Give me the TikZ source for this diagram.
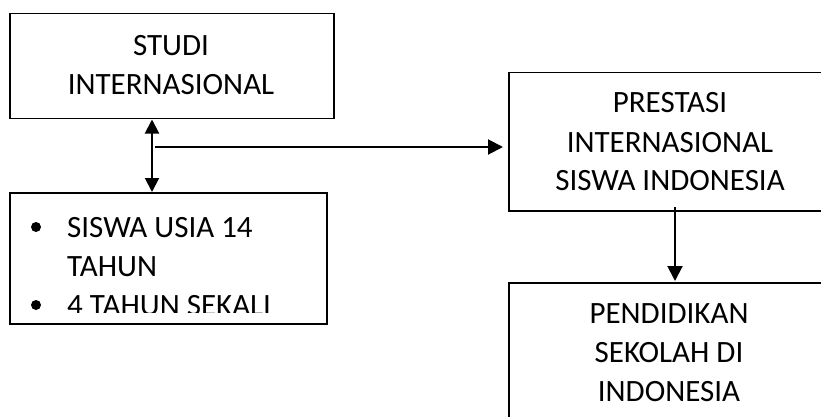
\documentclass[tikz,border=0pt]{standalone}
\usepackage{fontspec}
\setmainfont{Carlito}
\usetikzlibrary{arrows.meta}
\tikzset{
  box/.style={draw=black, line width=1.5pt, rectangle, inner sep=0pt, anchor=north west},
  txt/.style={inner sep=0pt, font=\fontsize{31}{39}\selectfont},
  conn/.style={line width=2pt, draw=black},
  tip/.style={-{Triangle[length=15pt,width=15pt]}},
  dtip/.style={{Triangle[length=14pt,width=14pt]}-{Triangle[length=14pt,width=14pt]}},
  bul/.style={circle, fill=black, inner sep=0pt, minimum size=10pt}
}
\begin{document}
\begin{tikzpicture}[x=1pt,y=-1pt]
\clip (0,0) rectangle (821,417);
\fill[white] (0,0) rectangle (821,417);
% boxes
\node[box, minimum width=324pt, minimum height=105pt] (studi) at (9,13) {};
\node[box, minimum width=317pt, minimum height=131pt] (siswa) at (9,192) {};
\node[box, minimum width=340pt, minimum height=138pt] (prestasi) at (508,72) {};
\node[box, minimum width=340pt, minimum height=160pt] (pend) at (508,282) {};
% texts
\node[txt, anchor=base] (t1a) at (171,56) {STUDI};
\node[txt, anchor=base] (t1b) at (171,95) {INTERNASIONAL};
\node[bul] (b1) at (36,227) {};
\node[txt, anchor=base west] (t2a) at (67,237) {SISWA USIA 14};
\node[txt, anchor=base west] (t2b) at (67,276) {TAHUN};
\begin{scope}
\clip (9,192) rectangle (326,312);
\node[bul] (b2) at (36,305) {};
\node[txt, anchor=base west] (t2c) at (67,315) {4 TAHUN SEKALI};
\end{scope}
\node[txt, anchor=base] (t3a) at (670,113) {PRESTASI};
\node[txt, anchor=base] (t3b) at (670,152) {INTERNASIONAL};
\node[txt, anchor=base] (t3c) at (670,190) {SISWA INDONESIA};
\node[txt, anchor=base] (t4a) at (669,323) {PENDIDIKAN};
\node[txt, anchor=base] (t4b) at (669,362) {SEKOLAH DI};
\node[txt, anchor=base] (t4c) at (669,401) {INDONESIA};
% connectors
\coordinate (jx) at (152,0);
\coordinate (hj) at (155,147);
\coordinate (vx) at (675,207);
\draw[conn, dtip] (jx |- studi.south) -- (jx |- siswa.north);
\draw[conn, tip, shorten >=5pt] (hj) -- (hj -| prestasi.west);
\draw[conn, tip, shorten >=1pt] (vx) -- (vx |- pend.north);
\end{tikzpicture}
\end{document}
